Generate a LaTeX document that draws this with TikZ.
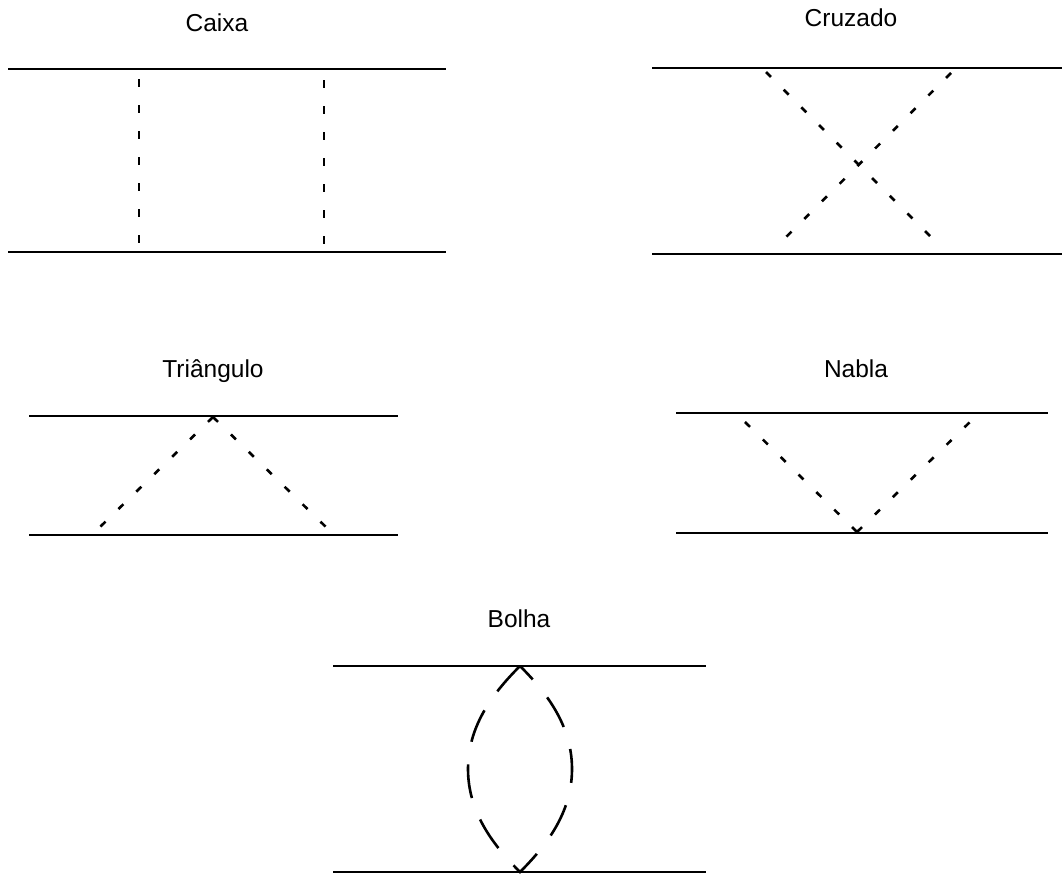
\documentclass[tikz,border=0pt]{standalone}
\usepackage{fontspec}
\setmainfont{Liberation Sans}
\begin{document}
\begin{tikzpicture}[x=1pt,y=-1pt,
  leg/.style={line width=2.8pt},
  prop/.style={line width=2.6pt, dash pattern=on 7pt off 18pt},
  vprop/.style={line width=2.6pt, dash pattern=on 8pt off 18pt},
  loopline/.style={line width=2.6pt, dash pattern=on 34pt off 23pt},
  title/.style={anchor=base, font=\fontsize{24.5}{29}\selectfont, inner sep=0pt}]
\useasboundingbox (0,0) rectangle (1062,878);

% ---------- Caixa ----------
\node[title] (tA) at (217,31) {Caixa};
\coordinate (A1) at (8,69);   \coordinate (A2) at (446,69);
\coordinate (A3) at (8,252);  \coordinate (A4) at (446,252);
\coordinate (Au1) at (139,79); \coordinate (Ad1) at (139,246);
\coordinate (Au2) at (324,80); \coordinate (Ad2) at (324,246);
\draw[leg] (A1) -- (A2);
\draw[leg] (A3) -- (A4);
\draw[vprop] (Au1) -- (Ad1);
\draw[vprop] (Au2) -- (Ad2);

% ---------- Cruzado ----------
\node[title] (tB) at (851,27) {Cruzado};
\coordinate (B1) at (652,68);  \coordinate (B2) at (1062,68);
\coordinate (B3) at (652,254); \coordinate (B4) at (1062,254);
\coordinate (Bu1) at (766,72); \coordinate (Bd1) at (941,247);
\coordinate (Bu2) at (951,73); \coordinate (Bd2) at (774,249);
\draw[leg] (B1) -- (B2);
\draw[leg] (B3) -- (B4);
\draw[prop] (Bu1) -- (Bd1);
\draw[prop] (Bu2) -- (Bd2);

% ---------- Triangulo ----------
\node[title] (tC) at (213,377) {Triângulo};
\coordinate (C1) at (29,416);  \coordinate (C2) at (398,416);
\coordinate (C3) at (29,535);  \coordinate (C4) at (398,535);
\coordinate (Cv) at (213,417);
\coordinate (Cl) at (100,527); \coordinate (Cr) at (328,529);
\draw[leg] (C1) -- (C2);
\draw[leg] (C3) -- (C4);
\draw[prop] (Cv) -- (Cl);
\draw[prop] (Cv) -- (Cr);

% ---------- Nabla ----------
\node[title] (tD) at (856,377) {Nabla};
\coordinate (D1) at (676,413); \coordinate (D2) at (1048,413);
\coordinate (D3) at (676,533); \coordinate (D4) at (1048,533);
\coordinate (Dv) at (857,532);
\coordinate (Dl) at (744,421); \coordinate (Dr) at (973,419);
\draw[leg] (D1) -- (D2);
\draw[leg] (D3) -- (D4);
\draw[prop] (Dv) -- (Dl);
\draw[prop] (Dv) -- (Dr);

% ---------- Bolha ----------
\node[title] (tE) at (519,627) {Bolha};
\coordinate (Ftl) at (333,666); \coordinate (Ftr) at (706,666);
\coordinate (Fbl) at (333,872); \coordinate (Fbr) at (706,872);
\coordinate (Ftop) at (520,666); \coordinate (Fbot) at (520,872);
\coordinate (Fwest) at (468,769); \coordinate (Feast) at (572,769);
\draw[loopline] (Ftop) .. controls (494,692) and (468,725) .. (Fwest)
                       .. controls (468,813) and (494,846) .. (Fbot)
                       .. controls (546,846) and (572,813) .. (Feast)
                       .. controls (572,725) and (546,692) .. (Ftop);
\draw[leg] (Ftl) -- (Ftr);
\draw[leg] (Fbl) -- (Fbr);
\end{tikzpicture}
\end{document}
